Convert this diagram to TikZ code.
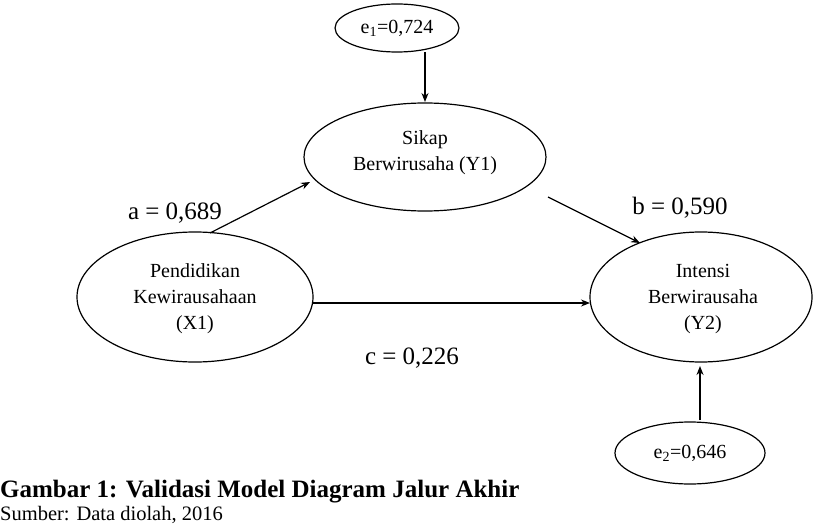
\documentclass[tikz,border=0pt]{standalone}
\usepackage{fontspec}
\setmainfont{Liberation Serif}
\usetikzlibrary{arrows.meta}
\begin{document}
\begin{tikzpicture}[x=1pt,y=-1pt,
  ell/.style={draw,line width=1.2pt,ellipse,inner sep=0pt},
  intxt/.style={font=\fontsize{20}{26}\selectfont,align=center},
  lbl/.style={font=\fontsize{25}{28}\selectfont},
  arr/.style={line width=1.2pt,-{Stealth[length=9pt,width=7pt]}}]
\useasboundingbox (0,0) rectangle (819,524);
\draw[line width=1.2pt] (397,28) ellipse [x radius=62, y radius=24];
\node[intxt] (e1) at (397,28) {e\textsubscript{1}=0,724};
\draw[line width=1.2pt] (425,157) ellipse [x radius=121, y radius=54];
\node[intxt] (y1) at (425,153) {Sikap\\Berwirusaha (Y1)};
\draw[line width=1.2pt] (195,297) ellipse [x radius=118, y radius=65];
\node[intxt] (x1) at (195,299) {Pendidikan\\Kewirausahaan\\(X1)};
\draw[line width=1.2pt] (701,297) ellipse [x radius=111, y radius=65];
\node[intxt] (y2) at (703,299) {Intensi\\Berwirausaha\\(Y2)};
\draw[line width=1.2pt] (690,453) ellipse [x radius=75, y radius=31];
\node[intxt] (e2) at (690,453) {e\textsubscript{2}=0,646};
\coordinate (e1b) at (425,52); \coordinate (y1t) at (425,102);
\coordinate (x1a) at (210,233); \coordinate (y1l) at (310,182);
\coordinate (y1r) at (548,197); \coordinate (y2a) at (640,243);
\coordinate (x1r) at (313,303); \coordinate (y2l) at (590,303);
\coordinate (e2t) at (700,420); \coordinate (y2b) at (700,366);
\draw[arr] (e1b) -- (y1t);
\draw[arr] (x1a) -- (y1l);
\draw[arr] (y1r) -- (y2a);
\draw[arr] (x1r) -- (y2l);
\draw[arr,line width=2pt] (e2t) -- (y2b);
\node[lbl] (la) at (175,213) {a = 0,689};
\node[lbl] (lb) at (680,208) {b = 0,590};
\node[lbl] (lc) at (412,358) {c = 0,226};
\node[anchor=base west,inner sep=0pt,font=\fontsize{25}{28}\selectfont\bfseries] (cap) at (0,497) {Gambar 1: Validasi Model Diagram Jalur Akhir};
\node[anchor=base west,inner sep=0pt,font=\fontsize{20.5}{22}\selectfont] (src) at (0,520) {Sumber: Data diolah, 2016};
\end{tikzpicture}
\end{document}
